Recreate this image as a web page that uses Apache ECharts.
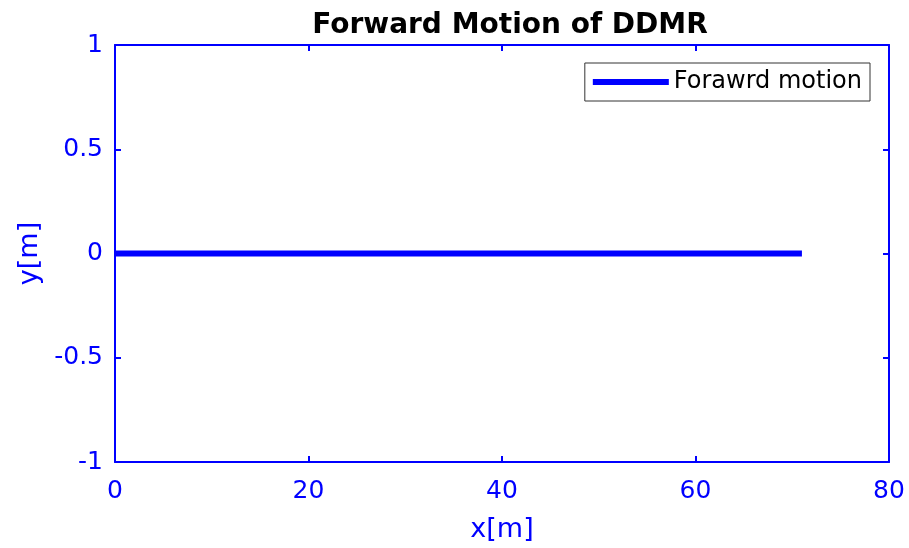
<!DOCTYPE html>
<html>
<head>
<meta charset="utf-8">
<script src="https://cdn.jsdelivr.net/npm/echarts@6/dist/echarts.min.js"></script>
<style>
  html, body { margin: 0; padding: 0; background: #fff; }
  #main { width: 909px; height: 548px; }
</style>
</head>
<body>
<div id="main"></div>
<script>
// data
var xValues = [0, 71];
var yValues = [0, 0];
var xTicks = [0, 20, 40, 60, 80];
var yTicks = [-1, -0.5, 0, 0.5, 1];

var blue = '#0000ff';
var font = 'DejaVu Sans, Arial, sans-serif';

var points = xValues.map(function (x, i) { return [x, yValues[i]]; });

var myChart = echarts.init(document.getElementById('main'));

// shared axis look (inside ticks, blue lines)
function axisBase(showLabel, margin) {
  return {
    type: 'value',
    axisLine: { show: true, onZero: false, lineStyle: { color: blue, width: 2 } },
    axisTick: { show: true, inside: true, length: 6, lineStyle: { color: blue, width: 2 } },
    axisLabel: { show: showLabel, color: blue, fontSize: 25, fontFamily: font, margin: margin || 12 },
    splitLine: { show: false }
  };
}

var xMain = Object.assign(axisBase(true, 17), {
  position: 'bottom', min: xTicks[0], max: xTicks[xTicks.length - 1], interval: 20,
  name: 'x[m]', nameLocation: 'middle', nameGap: 54,
  nameTextStyle: { color: blue, fontSize: 27, fontFamily: font }
});
var xTop = Object.assign(axisBase(false), { position: 'top', min: xTicks[0], max: xTicks[xTicks.length - 1], interval: 20 });
var yMain = Object.assign(axisBase(true, 12), {
  position: 'left', min: yTicks[0], max: yTicks[yTicks.length - 1], interval: 0.5,
  name: 'y[m]', nameLocation: 'middle', nameGap: 72,
  nameTextStyle: { color: blue, fontSize: 27, fontFamily: font }
});
var yRight = Object.assign(axisBase(false), { position: 'right', min: yTicks[0], max: yTicks[yTicks.length - 1], interval: 0.5 });

myChart.setOption({
  backgroundColor: '#fff',
  animation: false,
  title: {
    text: 'Forward Motion of DDMR',
    left: 505, top: 7, textAlign: 'center',
    textStyle: { color: '#000', fontSize: 28, fontWeight: 'bold', fontFamily: font }
  },
  legend: {
    data: ['Forawrd motion'],
    right: 39, top: 63,
    orient: 'vertical',
    backgroundColor: '#fff',
    borderColor: '#333', borderWidth: 1,
    borderRadius: 0,
    padding: [7, 8, 7, 8],
    itemWidth: 76, itemHeight: 6, itemGap: 0,
    icon: 'rect',
    textStyle: { color: '#000', fontSize: 24, fontFamily: font }
  },
  grid: { left: 115, right: 20, top: 45, bottom: 84 },
  xAxis: [xMain, xTop],
  yAxis: [yMain, yRight],
  series: [{
    name: 'Forawrd motion',
    type: 'line',
    xAxisIndex: 0, yAxisIndex: 0,
    data: points,
    showSymbol: false,
    symbol: 'none',
    lineStyle: { color: blue, width: 6 },
    itemStyle: { color: blue }
  }]
});
</script>
</body>
</html>
